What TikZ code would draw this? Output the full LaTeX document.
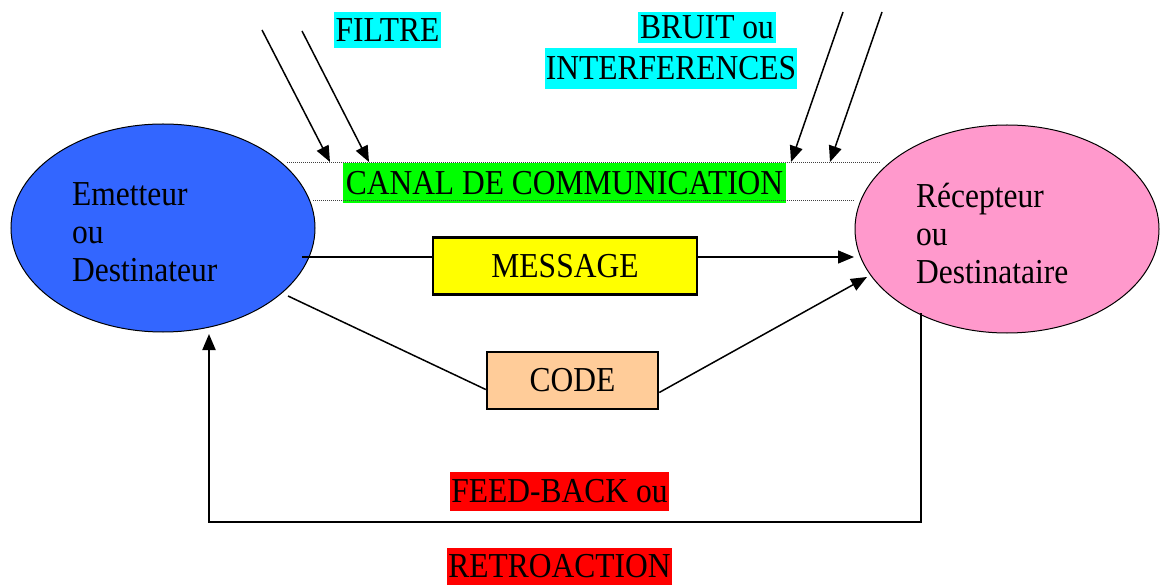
\documentclass[tikz,border=0pt]{standalone}
\usepackage{fontspec}
\setmainfont{Liberation Serif}[FakeStretch=0.9]
\usetikzlibrary{arrows.meta,shapes.geometric}
\definecolor{cEm}{HTML}{3366FF}
\definecolor{cRe}{HTML}{FF99CC}
\definecolor{cMsg}{HTML}{FFFF00}
\definecolor{cCode}{HTML}{FFCC99}
\definecolor{cCyan}{HTML}{00FFFF}
\definecolor{cGreen}{HTML}{00FF00}
\definecolor{cRed}{HTML}{FF0000}
\begin{document}
\begin{tikzpicture}[x=1pt,y=-1pt,
  every node/.style={font=\fontsize{35}{38}\selectfont},
  hl/.style={inner sep=0pt, minimum height=#1},
  person/.style={ellipse, draw=black, line width=1pt, minimum width=304pt, minimum height=208pt, inner sep=0pt},
  lbl/.style={align=left, anchor=north west, inner sep=0pt},
  box/.style={draw=black, line width=2.5pt, inner sep=0pt, minimum height=57pt},
  tip/.style={-{Triangle[length=16pt,width=13pt]}},
  wire/.style={line width=1.5pt},
  chan/.style={dash pattern=on 1pt off 1pt, line width=1pt, black!75}
]
\useasboundingbox (0,0) rectangle (1164,585);
\fill[white] (0,0) rectangle (1164,585);

% persons
\node[person, fill=cEm] (em) at (163,228) {};
\node[person, fill=cRe] (re) at (1007,229) {};
\node[lbl] (emt) at (72,182) {Emetteur\\ou\\Destinateur};
\node[lbl] (ret) at (916,183) {Récepteur\\ou\\Destinataire};

% highlighted labels
\node[hl=36pt, fill=cCyan, minimum width=107pt] (filtre) at (387.5,30) {FILTRE};
\node[hl=31pt, fill=cCyan, minimum width=138pt] (bruit) at (707,27.5) {BRUIT ou};
\node[hl=41pt, fill=cCyan, minimum width=252pt] (interf) at (671,68.5) {INTERFERENCES};
\node[hl=40pt, fill=cGreen, minimum width=443pt] (canal) at (564.5,183) {CANAL DE COMMUNICATION};
\node[hl=39pt, fill=cRed, minimum width=219pt] (feed) at (559.5,491.5) {FEED-BACK ou};
\node[hl=37pt, fill=cRed, minimum width=225pt] (retro) at (559.5,566.5) {RETROACTION};

% boxes
\node[box, fill=cMsg, minimum width=264pt] (msg) at (565,266) {MESSAGE};
\node[box, fill=cCode, minimum width=171pt] (code) at (572.5,380.5) {CODE};

% channel dotted lines
\coordinate (c1a) at (287,163); \coordinate (c1b) at (880,163);
\coordinate (c2a) at (313,201); \coordinate (c2b) at (854,201);
\draw[chan] (c1a) -- (c1b);
\draw[chan] (c2a) -- (c2b);

% incoming arrows (filter / noise)
\coordinate (f1s) at (262,30);  \coordinate (f1e) at (330,162);
\coordinate (f2s) at (302,31);  \coordinate (f2e) at (369,162);
\coordinate (b1s) at (843,12);  \coordinate (b1e) at (791,162);
\coordinate (b2s) at (882,12);  \coordinate (b2e) at (830,162);
\draw[wire, tip] (f1s) -- (f1e);
\draw[wire, tip] (f2s) -- (f2e);
\draw[wire, tip] (b1s) -- (b1e);
\draw[wire, tip] (b2s) -- (b2e);

% message path
\coordinate (ms) at (302,257);
\coordinate (me) at (854,257);
\draw[line width=2pt] (ms) -- (msg.west |- ms);
\draw[wire, tip] (msg.east |- me) -- (me);

% code path
\coordinate (cs) at (288,296);
\coordinate (ce) at (867,277);
\draw[wire] (cs) -- ([yshift=-9pt]code.west);
\draw[wire, tip] ([yshift=-12pt]code.east) -- (ce);

% feedback
\coordinate (fbs) at (921,313);
\coordinate (fbe) at (209,334);
\draw[line width=2pt, tip] (fbs) |- (209,522) -- (fbe);
\end{tikzpicture}
\end{document}
